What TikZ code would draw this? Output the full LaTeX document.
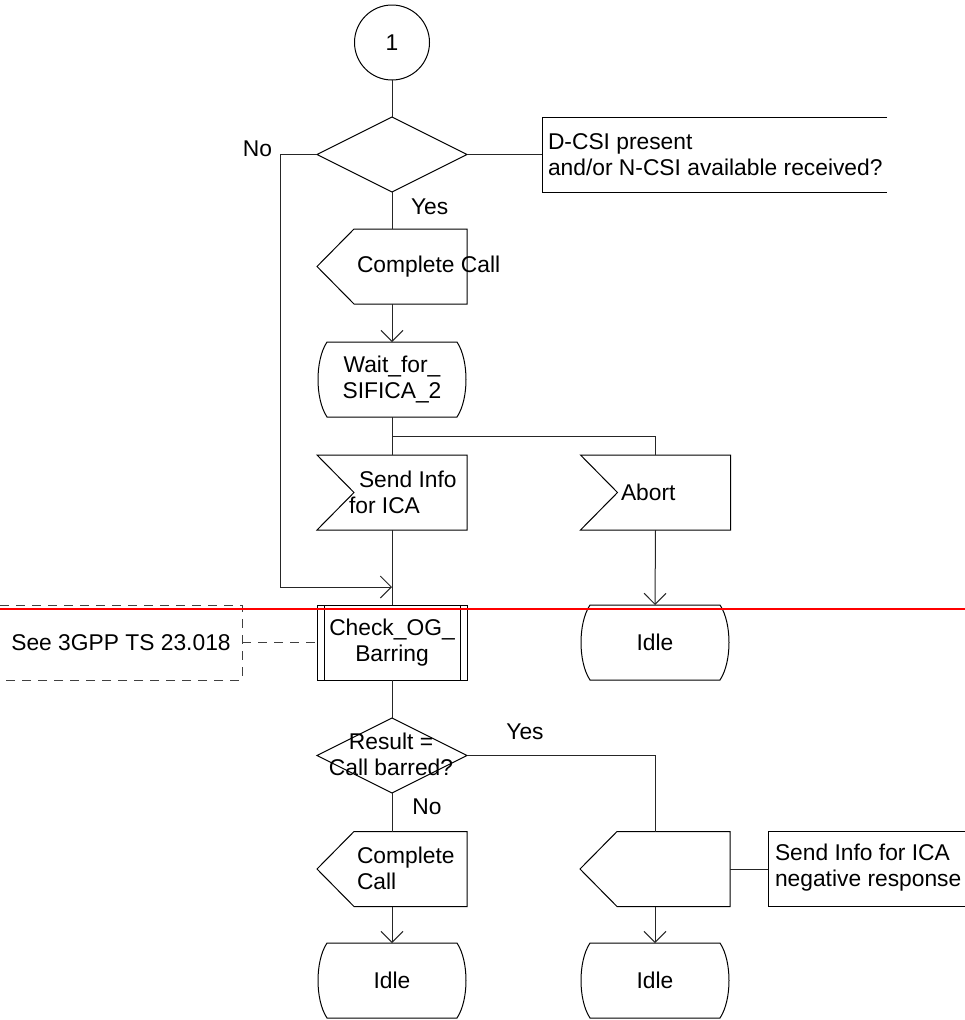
\documentclass[tikz,border=0pt]{standalone}
\usepackage{fontspec}
\setmainfont{Liberation Sans}
\usetikzlibrary{shapes.geometric,arrows.meta,calc}
\newcommand\statepath[1]{\draw[outline] ($(#1.north west)+(10,0)$) -- ($(#1.north east)+(-10,0)$) .. controls ($(#1.north east)+(2,18)$) and ($(#1.south east)+(2,-18)$) .. ($(#1.south east)+(-10,0)$) -- ($(#1.south west)+(10,0)$) .. controls ($(#1.south west)+(-2,-18)$) and ($(#1.north west)+(-2,18)$) .. cycle;}
\newcommand\outpath[1]{\draw[outline] (#1.west) -- ($(#1.north west)+(37,0)$) -- (#1.north east) -- (#1.south east) -- ($(#1.south west)+(37,0)$) -- cycle;}
\newcommand\inpath[1]{\draw[outline] (#1.north west) -- (#1.north east) -- (#1.south east) -- (#1.south west) -- ($(#1.west)+(37,0)$) -- cycle;}
\begin{document}
\begin{tikzpicture}[x=1pt,y=-1pt,
  every node/.style={inner sep=0pt, outer sep=0pt, font=\fontsize{22.8}{26}\selectfont},
  shp/.style={minimum width=150pt, minimum height=75pt},
  ln/.style={line width=1pt, draw=black!85},
  outline/.style={line width=1pt, draw=black},
  arr/.style={ln, -{Straight Barb[length=11pt,width=22pt,line width=1pt]}},
  lbl/.style={align=left},
  ctr/.style={align=center},
  dsh/.style={line width=1pt, draw=black!75, dash pattern=on 9pt off 7pt},
]
\useasboundingbox (0,0) rectangle (965,1020);

% start connector
\node[outline, circle, minimum size=75pt] (start) at (392,42.5) {1};

% decision 1
\node[outline, diamond, aspect=2, minimum width=150pt, minimum height=75pt] (d1) at (392,154.5) {};
\node[anchor=east] (no1) at (272,149) {No};
\node[anchor=west] (yes1) at (411,207) {Yes};
\node[minimum width=345pt, minimum height=75pt, anchor=west] (cm1) at (542,154.5) {};
\draw[outline] (cm1.north east) -- (cm1.north west) -- (cm1.south west) -- (cm1.south east);
\node[lbl, anchor=west] (cm1t) at (548,154.5) {D-CSI present\\and/or N-CSI available received?};

% output Complete Call
\node[shp] (s1) at (392,266.5) {};
\outpath{s1}
\node[anchor=west] (s1t) at (357,267) {Complete Call};

% state Wait_for_SIFICA_2
\node[shp, ctr] (w1) at (392,379.5) {Wait\_for\_\\SIFICA\_2};
\statepath{w1}

\coordinate (br) at (392,436);

% inputs
\node[shp] (i1) at (392,492.5) {};
\inpath{i1}
\node[lbl, anchor=west] (i1t) at (349,492.5) {\hspace*{10pt}Send Info\\for ICA};
\node[shp] (ab) at (655.5,492.5) {};
\inpath{ab}
\node[anchor=west] (abt) at (621,492.5) {Abort};

% idle 1
\node[shp] (id1) at (655,642.5) {Idle};
\statepath{id1}

% procedure call
\node[shp, ctr] (pr) at (392,642.5) {Check\_OG\_\\Barring};
\draw[outline] (pr.north west) rectangle (pr.south east);
\draw[outline] ($(pr.north west)+(7,0)$) -- ($(pr.south west)+(7,0)$);
\draw[outline] ($(pr.north east)+(-7,0)$) -- ($(pr.south east)+(-7,0)$);

% dashed comment
\node[minimum width=242pt, minimum height=75pt, anchor=west] (cm2) at (0,642.5) {See 3GPP TS 23.018};
\draw[dsh] (cm2.north west) -- (cm2.north east) -- (cm2.south east) -- (cm2.south west);
\draw[dsh] (cm2.east) -- (pr.west);

% decision 2
\node[outline, diamond, aspect=2, minimum width=150pt, minimum height=75pt] (d2) at (392,755.5) {};
\node[ctr] (d2t) at (391,754) {Result =\\Call barred?};
\node (yes2) at (525,732) {Yes};
\node (no2) at (427,807) {No};

% outputs bottom
\node[shp] (s2) at (392,869) {};
\outpath{s2}
\node[lbl, anchor=west] (s2t) at (357,868) {Complete\\Call};
\node[shp] (s3) at (655,869) {};
\outpath{s3}
\node[minimum width=197pt, minimum height=75pt, anchor=west] (cm3) at (768,869) {};
\draw[outline] (cm3.north east) -- (cm3.north west) -- (cm3.south west) -- (cm3.south east);
\node[lbl, anchor=west] (cm3t) at (775,868) {Send Info for ICA\\negative response};

% idle bottom
\node[shp] (id2) at (392,980.5) {Idle};
\statepath{id2}
\node[shp] (id3) at (655,980.5) {Idle};
\statepath{id3}

% connectors
\coordinate (nob) at (280,587);
\draw[ln] (start.south) -- (d1.north);
\draw[ln] (d1.east) -- (cm1.west);
\draw[ln] (d1.south) -- (s1.north);
\draw[arr] (s1.south) -- (w1.north);
\draw[ln] (w1.south) -- (i1.north);
\draw[ln] (br) -| (ab.north);
\draw[ln] (i1.south) -- (pr.north);
\draw[arr] (d1.west) -| (nob) -- (nob -| pr.north);
\draw[arr] (ab.south) -- (id1.north);
\draw[ln] (pr.south) -- (d2.north);
\draw[ln] (d2.east) -| (s3.north);
\draw[ln] (d2.south) -- (s2.north);
\draw[arr] (s2.south) -- (id2.north);
\draw[arr] (s3.south) -- (id3.north);
\draw[ln] (s3.east) -- (cm3.west);

% red marker line
\draw[red, line width=1.5pt] (0,609) -- (965,609);
\end{tikzpicture}
\end{document}
